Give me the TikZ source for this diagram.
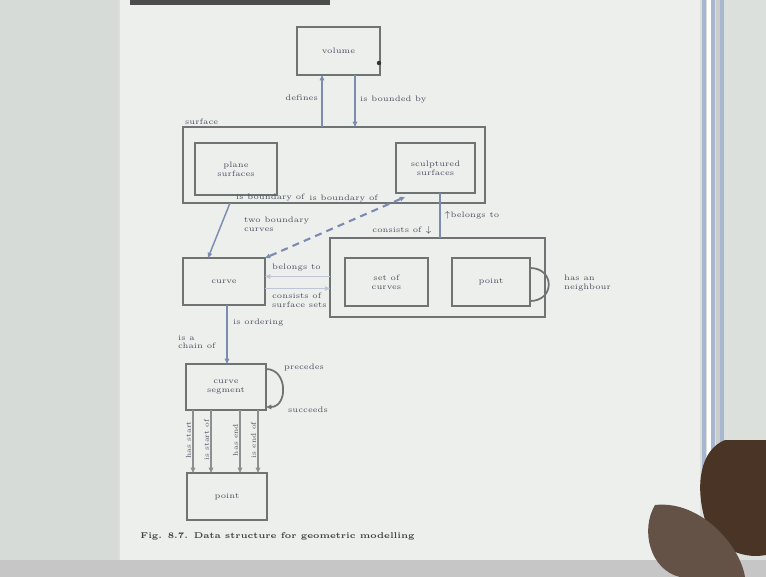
\documentclass[tikz,border=0pt]{standalone}
\usetikzlibrary{arrows.meta}
\definecolor{bgc}{HTML}{DCE0DC}
\definecolor{pagec}{HTML}{ECEFEC}
\definecolor{leftc}{HTML}{D6DBD8}
\definecolor{boxc}{HTML}{6E7373}
\definecolor{linec}{HTML}{7C8BB0}
\definecolor{txtc}{HTML}{4A4E5E}
\definecolor{handc}{HTML}{4A3426}
\definecolor{stripec}{HTML}{A9B6CF}
\begin{document}
\begin{tikzpicture}[x=0.02cm,y=-0.02cm,
  box/.style={draw=boxc,line width=1.1pt,inner sep=0pt,outer sep=0pt,align=center,
    font=\fontsize{4.5}{5}\selectfont,text=txtc},
  lbl/.style={font=\fontsize{4.5}{5}\selectfont,text=txtc,inner sep=1pt,align=left},
  conn/.style={draw=linec,line width=0.8pt},
  tip/.style={-{Triangle[length=3pt,width=2.5pt]}},
  bitip/.style={{Triangle[length=3pt,width=2.5pt]}-{Triangle[length=3pt,width=2.5pt]}}
]
\useasboundingbox (0,0) rectangle (766,577);
% photographed page background
\fill[bgc] (0,0) rectangle (766,577);
\fill[leftc] (0,0) rectangle (118,560);
\fill[pagec] (120,0) rectangle (700,560);
\fill[black!70] (130,0) rectangle (330,5);
\foreach \sx/\sc in {702/stripec,707/white,711/stripec,716/gray!40,720/stripec}{
  \fill[\sc] (\sx,0) rectangle ++(4,470);}
\fill[gray!45] (0,560) rectangle (766,577);
\fill[handc] (725,440) .. controls (700,450) and (695,485) .. (705,520)
  .. controls (712,545) and (740,560) .. (766,555) -- (766,440) -- cycle;
\fill[handc!85] (655,505) .. controls (640,530) and (650,570) .. (680,577)
  -- (745,577) .. controls (740,545) and (700,500) .. (655,505) -- cycle;

% boxes
\node[box,minimum width=1.66cm,minimum height=0.96cm] (volume) at (338.5,51) {volume};
\node[box,minimum width=6.04cm,minimum height=1.52cm] (surface) at (334,165) {};
\node[lbl,anchor=south west] at (183,127) {surface};
\node[box,minimum width=1.64cm,minimum height=1.04cm] (plane) at (236,169) {plane\\surfaces};
\node[box,minimum width=1.58cm,minimum height=1.0cm] (sculpt) at (435.5,168) {sculptured\\surfaces};
\node[box,minimum width=1.64cm,minimum height=0.94cm] (curve) at (224,281.5) {curve};
\node[box,minimum width=4.3cm,minimum height=1.58cm] (group) at (437.5,277.5) {};
\node[box,minimum width=1.66cm,minimum height=0.96cm] (setc) at (386.5,282) {set of\\curves};
\node[box,minimum width=1.56cm,minimum height=0.96cm] (pointa) at (491,282) {point};
\node[box,minimum width=1.6cm,minimum height=0.92cm] (cseg) at (226,387) {curve\\segment};
\node[box,minimum width=1.6cm,minimum height=0.94cm] (pointb) at (227,496.5) {point};

% volume -- surface
\draw[conn,{Triangle[length=3pt,width=2.5pt]}-] (322,0 |- volume.south) -- (322,0 |- surface.north);
\draw[conn,tip] (355,0 |- volume.south) -- (355,0 |- surface.north);
\fill[black!80] (379,63) circle (2.2);
\node[lbl,anchor=east] at (320,98) {defines};
\node[lbl,anchor=west] at (358,100) {is bounded by};

% surface -- curve
\draw[conn,tip] (230,0 |- surface.south) -- (208,0 |- curve.north);
\node[lbl,anchor=west] at (234,198) {is boundary of};
\draw[conn,dashed,line width=1.2pt,dash pattern=on 4pt off 3pt,bitip] (405,197) -- (curve.north east);
\node[lbl,anchor=east] at (380,199) {is boundary of};
\node[lbl,anchor=west] at (242,224) {two boundary\\curves};

% sculptured -- group
\draw[conn] (440,0 |- sculpt.south) -- (440,0 |- group.north);
\node[lbl,anchor=east] at (434,230) {consists of $\downarrow$};
\node[lbl,anchor=west] at (442,215) {$\uparrow$belongs to};

% curve -- group
\draw[conn,draw=linec!50,tip] ([yshift=-0.14cm]curve.east) -- ([yshift=-0.14cm]curve.east -| group.west);
\draw[conn,draw=linec!50,tip] ([yshift=0.1cm]curve.east -| group.west) -- ([yshift=0.1cm]curve.east);
\node[lbl,anchor=west] at (270,268) {belongs to};
\node[lbl,anchor=west] at (270,300) {consists of\\surface sets};

% point loop
\draw[conn,draw=boxc,line width=1pt] ([yshift=0.28cm]pointa.east) .. controls ++(25,0) and ++(25,0) .. ([yshift=-0.38cm]pointa.east);
\node[lbl,anchor=west] at (562,283) {has an\\neighbour};

% curve -- curve segment
\draw[conn,tip] (227,0 |- curve.south) -- (227,0 |- cseg.north);
\node[lbl,anchor=west] at (231,323) {is ordering};
\node[lbl,anchor=west] at (176,342) {is a\\chain of};

% curve segment loop
\draw[conn,draw=boxc,line width=1pt,tip] ([yshift=-0.1cm]cseg.north east) .. controls ++(22,0) and ++(22,0) .. ([yshift=0.06cm]cseg.south east);
\node[lbl,anchor=west] at (282,368) {precedes};
\node[lbl,anchor=west] at (286,410) {succeeds};

% curve segment -- point
\foreach \lx/\lt in {193/has start,211/is start of,240/has end,258/is end of}{
  \draw[conn,draw=boxc!80,line width=1.1pt,tip] (\lx,0 |- cseg.south) -- (\lx,0 |- pointb.north);
  \node[lbl,rotate=90,anchor=south,font=\fontsize{4}{4.5}\selectfont] at (\lx,440) {\lt};
}

% caption
\node[anchor=west,font=\fontsize{4.8}{5.5}\selectfont\bfseries,text=black!75,inner sep=0pt] (cap) at (140,536)
  {Fig. 8.7. Data structure for geometric modelling};
\end{tikzpicture}
\end{document}
